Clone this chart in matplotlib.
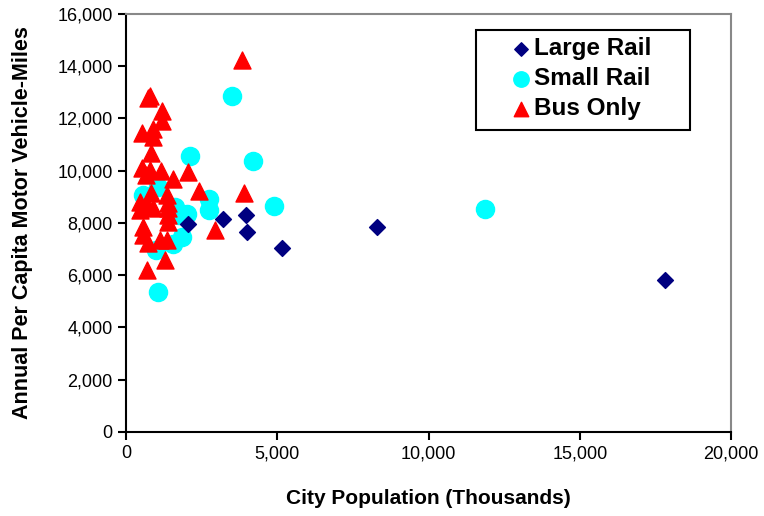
import matplotlib
matplotlib.use("Agg")
import matplotlib.pyplot as plt
from matplotlib.patches import Rectangle
from matplotlib.ticker import FuncFormatter

plt.rcParams['font.family'] = ['Liberation Sans', 'DejaVu Sans']

# Large Rail (population in thousands, annual VMT per capita)
large_x = [17800, 8300, 5150, 3950, 4000, 3200, 2050]
large_y = [5820, 7850, 7040, 8300, 7660, 8150, 7950]

# Small Rail
small_x = [11850, 3500, 4200, 4900, 2100, 2750, 2750, 1050, 2000, 1850, 1550, 1000,
           570, 1050, 1620, 1750]
small_y = [8540, 12860, 10370, 8650, 10560, 8920, 8500, 5360, 8340, 7460, 7200, 6970,
           9070, 9380, 8600, 8300]

# Bus Only
bus_x = [3830, 730, 800, 1200, 1200, 900, 530, 900, 830, 530, 800, 1150, 2050, 660,
         1550, 2410, 3900, 830, 1350, 460, 690, 900, 1390, 460, 1390, 1390, 2940, 570,
         570, 1120, 1350, 730, 1290, 690, 1390]
bus_y = [14240, 12780, 12850, 12300, 11900, 11600, 11440, 11300, 10680, 10100, 10030,
         9990, 9950, 9840, 9680, 9220, 9150, 9150, 9070, 8800, 8690, 8570, 8570, 8500,
         8300, 8040, 7730, 7850, 7540, 7350, 7350, 7230, 6580, 6200, 8770]

fig = plt.figure(figsize=(7.64, 5.16), dpi=100)
ax = fig.add_axes([0.165, 0.163, 0.792, 0.81])

ax.scatter(large_x, large_y, marker='D', s=65, color='#000080', label='Large Rail', zorder=3)
ax.scatter(small_x, small_y, marker='o', s=170, color='#00FFFF', label='Small Rail', zorder=2)
ax.scatter(bus_x, bus_y, marker='^', s=150, color='#FF0000', label='Bus Only', zorder=4)

ax.set_xlim(0, 20000)
ax.set_ylim(0, 16000)
ax.set_xticks(range(0, 20001, 5000))
ax.set_yticks(range(0, 16001, 2000))
fmt = FuncFormatter(lambda v, p: f"{int(v):,}")
ax.xaxis.set_major_formatter(fmt)
ax.yaxis.set_major_formatter(fmt)
ax.tick_params(labelsize=13, direction='out', length=5.5, width=1.5, pad=4)

for side in ['top', 'right']:
    ax.spines[side].set_color('#888888')
    ax.spines[side].set_linewidth(1.5)
for side in ['left', 'bottom']:
    ax.spines[side].set_linewidth(1.5)

ax.set_xlabel("City Population (Thousands)", fontsize=15, fontweight='bold')
ax.set_ylabel("Annual Per Capita Motor Vehicle-Miles", fontsize=15.5, fontweight='bold')
ax.xaxis.set_label_coords(0.5, -0.137)
ax.yaxis.set_label_coords(-0.153, 0.5)

# legend box
ax.add_patch(Rectangle((0.5785, 0.7225), 0.3535, 0.2392, transform=ax.transAxes,
                       fill=True, facecolor='white', edgecolor='black', linewidth=1.5, zorder=5))
leg = ax.legend(loc='center', bbox_to_anchor=(0.75, 0.845), prop={'size': 17.5, 'weight': 'bold'},
                frameon=False, handletextpad=0.05, borderpad=0.2, labelspacing=0.28,
                handlelength=1.0, markerscale=0.85)
leg.set_zorder(6)

fig.savefig("out.png", dpi=100)
